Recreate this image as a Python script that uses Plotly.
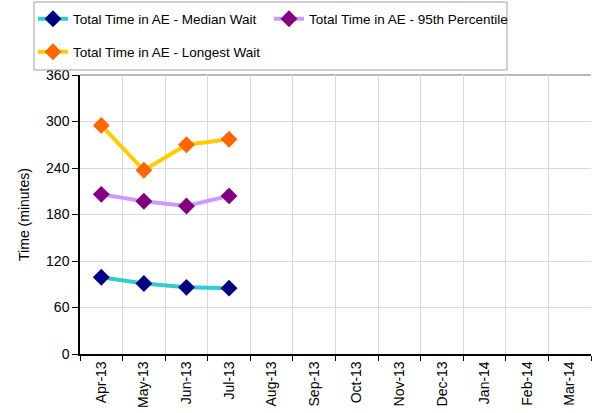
import plotly.graph_objects as go

months = ["Apr-13", "May-13", "Jun-13", "Jul-13", "Aug-13", "Sep-13",
          "Oct-13", "Nov-13", "Dec-13", "Jan-14", "Feb-14", "Mar-14"]
median_wait = [99, 91, 86, 85, None, None, None, None, None, None, None, None]
pct95_wait = [206, 197, 191, 204, None, None, None, None, None, None, None, None]
longest_wait = [295, 237, 270, 277, None, None, None, None, None, None, None, None]

W, H = 594, 413
fig = go.Figure()
fig.add_trace(go.Scatter(x=months, y=median_wait, mode="lines+markers",
                         name="Total Time in AE - Median Wait",
                         line=dict(color="#33CCCC", width=4),
                         marker=dict(symbol="diamond", size=13, color="#000080"),
                         legend="legend"))
fig.add_trace(go.Scatter(x=months, y=pct95_wait, mode="lines+markers",
                         name="Total Time in AE - 95th Percentile",
                         line=dict(color="#CC99FF", width=4),
                         marker=dict(symbol="diamond", size=13, color="#800080"),
                         legend="legend2"))
fig.add_trace(go.Scatter(x=months, y=longest_wait, mode="lines+markers",
                         name="Total Time in AE - Longest Wait",
                         line=dict(color="#FFCC00", width=4),
                         marker=dict(symbol="diamond", size=13, color="#FF6600"),
                         legend="legend3"))

fam = "Liberation Sans, Arial, sans-serif"
axfont = dict(family=fam, size=14, color="#000000")
lgfont = dict(family=fam, size=13.5, color="#000000")


def leg(xpx, ypx):
    return dict(orientation="h", xref="container", yref="container",
                x=xpx / W, y=1 - ypx / H, xanchor="left", yanchor="middle",
                itemwidth=30, bgcolor="rgba(0,0,0,0)", font=lgfont)


fig.update_layout(
    width=W, height=H,
    margin=dict(l=80, r=3, t=75, b=59, autoexpand=False),
    paper_bgcolor="white", plot_bgcolor="white",
    font=lgfont,
    legend=leg(33, 19),
    legend2=leg(269, 19),
    legend3=leg(33, 52),
    xaxis=dict(type="category", categoryorder="array", categoryarray=months,
               tickson="boundaries", ticks="outside", ticklen=5, tickcolor="#000",
               showline=True, linecolor="#000", linewidth=1.5,
               showgrid=True, gridcolor="#D9D9D9", gridwidth=1,
               tickangle=-90, tickfont=axfont, range=[-0.5, 11.5],
               automargin=False),
    yaxis=dict(range=[0, 360], dtick=60, ticks="outside", ticklen=6, tickcolor="#000",
               showline=True, linecolor="#000", linewidth=1.5,
               showgrid=True, gridcolor="#D9D9D9", gridwidth=1,
               tickfont=axfont, zeroline=False, automargin=False,
               title=dict(text="Time (minutes)", font=axfont, standoff=13)),
    showlegend=True,
)
# plot-area top border and legend frame
fig.add_shape(type="line", xref="paper", yref="paper", x0=0, x1=1, y0=1, y1=1,
              line=dict(color="#A0A0A0", width=1.5), layer="below")
fig.add_shape(type="rect", xref="paper", yref="paper",
              x0=(34 - 80) / 511, x1=(507 - 80) / 511,
              y0=(354 - 70) / 279, y1=(354 - 2) / 279,
              line=dict(color="#A0A0A0", width=1))
fig.write_html("out.html", config={"displayModeBar": False},
               post_script="document.body.style.margin='0';document.body.style.overflow='hidden';")
